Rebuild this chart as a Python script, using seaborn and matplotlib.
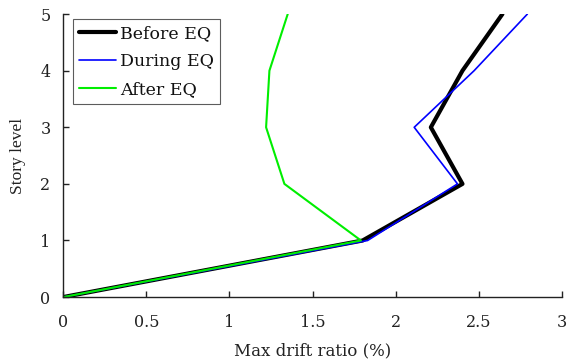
import matplotlib
matplotlib.use("Agg")
import matplotlib.pyplot as plt
import seaborn as sns
import pandas as pd

story = [0, 1, 2, 3, 4, 5]
before_eq = [0, 1.80, 2.40, 2.21, 2.40, 2.64]
during_eq = [0, 1.83, 2.37, 2.11, 2.47, 2.79]
after_eq = [0, 1.79, 1.33, 1.22, 1.24, 1.35]
labels = ["Before EQ", "During EQ", "After EQ"]
colors = ["#000000", "#0000ff", "#00ee00"]
widths = [3.0, 1.2, 1.5]

sns.set_style("white")
plt.rcParams["font.family"] = ["DejaVu Serif"]

fig = plt.figure(figsize=(5.68, 3.61), dpi=100)
ax = fig.add_axes([0.111, 0.177, 0.879, 0.784])

for vals, lab, c, w in zip([before_eq, during_eq, after_eq], labels, colors, widths):
    df = pd.DataFrame({"drift": vals, "story": story})
    sns.lineplot(data=df, x="drift", y="story", sort=False, estimator=None,
                 color=c, linewidth=w, label=lab, ax=ax)

ax.set_xlim(0, 3)
ax.set_ylim(0, 5)
ax.set_xticks([0, 0.5, 1, 1.5, 2, 2.5, 3])
ax.set_xticklabels(["0", "0.5", "1", "1.5", "2", "2.5", "3"])
ax.set_yticks([0, 1, 2, 3, 4, 5])
ax.tick_params(direction="in", length=4, width=1, labelsize=11.5, colors="#222222",
               bottom=True, left=True)
ax.tick_params(axis="x", pad=12)
ax.tick_params(axis="y", pad=9)
for s in ["top", "right"]:
    ax.spines[s].set_visible(False)
for s in ["left", "bottom"]:
    ax.spines[s].set_color("#222222")
    ax.spines[s].set_linewidth(1.0)
ax.set_xlabel("Max drift ratio (%)", fontsize=12, labelpad=8, color="#222222")
ax.set_ylabel("Story level", fontsize=12.5, labelpad=10, color="#222222",
              family="Liberation Serif")

leg = ax.legend(loc="upper left", bbox_to_anchor=(0.02, 0.982), fontsize=12.5,
                frameon=True, fancybox=False, edgecolor="#333333",
                handlelength=2.1, handletextpad=0.25, borderpad=0.35,
                labelspacing=0.62, borderaxespad=0.0)
leg.get_frame().set_linewidth(0.8)
for t in leg.get_texts():
    t.set_color("#111111")

fig.savefig("out.png", dpi=100)
